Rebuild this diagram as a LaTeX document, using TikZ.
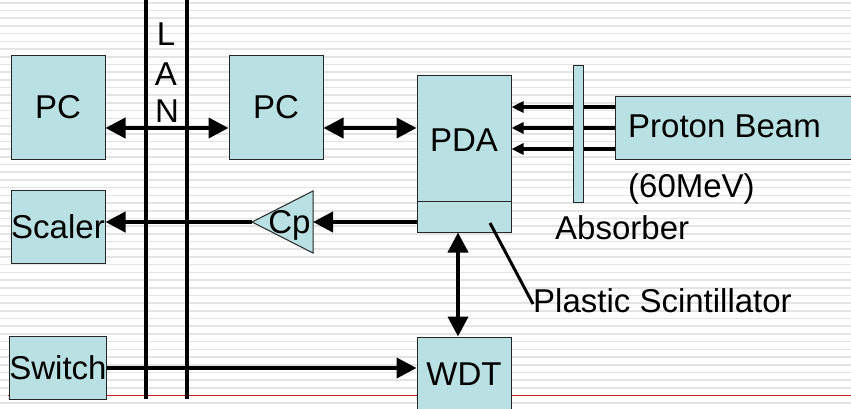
\documentclass[tikz,border=0pt]{standalone}
\usepackage{fontspec}
\setmainfont{Liberation Sans}
\usetikzlibrary{arrows.meta}
\definecolor{boxcol}{RGB}{185,224,227}
\definecolor{stripecol}{RGB}{228,228,228}
\definecolor{redline}{RGB}{200,30,30}
\newcommand{\bigfont}{\fontsize{33}{39}\selectfont}
\tikzset{
  blockbox/.style={draw=black!85, line width=1pt, fill=boxcol, inner sep=0pt, rectangle},
  lbl/.style={inner sep=0pt, anchor=base, font=\bigfont},
  lblw/.style={inner sep=0pt, anchor=base west, font=\bigfont},
  bigarrow/.style={line width=4pt, -{Triangle[length=20pt,width=20pt]}},
  bigbiarrow/.style={line width=4pt, {Triangle[length=20pt,width=20pt]}-{Triangle[length=20pt,width=20pt]}},
  beamarrow/.style={line width=3.3pt, -{Triangle[length=12pt,width=11pt]}},
  lanline/.style={line width=3.5pt},
}
\begin{document}
\begin{tikzpicture}[x=1pt,y=-1pt]
\path[use as bounding box] (0,0) rectangle (851,408);
\clip (0,0) rectangle (851,408);
\fill[white] (0,0) rectangle (851,408);
\foreach \k in {0,...,53} \fill[stripecol] (0,{2+7.7*\k}) rectangle (851,{3.6+7.7*\k});
% red template line
\coordinate (redL) at (8,395.5);
\coordinate (redR) at (851,395.5);
\draw[redline, line width=1pt] (redL) -- (redR);

% coordinates for rows
\coordinate (rowpc) at (0,128);
\coordinate (rowb1) at (0,107);
\coordinate (rowb2) at (0,128);
\coordinate (rowb3) at (0,149);
\coordinate (rowsw) at (0,368);
\coordinate (cpin) at (313,222);
\coordinate (cpout) at (252,222);

% boxes
\node[blockbox, minimum width=94pt, minimum height=104pt, font=\bigfont] (pc1) at (58,107) {PC};
\node[blockbox, minimum width=94pt, minimum height=104pt, font=\bigfont] (pc2) at (276,107) {PC};
\node[blockbox, minimum width=94pt, minimum height=157pt] (pda) at (464,153.5) {};
\coordinate (pdadiv) at (0,201);
\draw[black!85, line width=1pt] (pda.west |- pdadiv) -- (pda.east |- pdadiv);
\node[lbl] (pdatxt) at (464,151) {PDA};
\node[blockbox, minimum width=245pt, minimum height=63pt] (beam) at (737.5,127.5) {};
\node[lblw] (beamtxt) at (628,137) {Proton Beam};
\node[blockbox, minimum width=94pt, minimum height=73pt, font=\bigfont] (scaler) at (58,226.5) {Scaler};
\node[blockbox, minimum width=94pt, minimum height=63pt, font=\bigfont] (switch) at (58,367.5) {Switch};
\node[blockbox, minimum width=94pt, minimum height=83pt] (wdt) at (464,378.5) {};
\node[lbl] (wdttxt) at (464,385) {WDT};

% Cp triangle
\draw[black!85, line width=1pt, fill=boxcol] (cpout) -- (313,191) -- (313,253) -- cycle;
\node[lbl] (cp) at (289.5,233) {Cp};

% beam arrows (under absorber)
\draw[beamarrow] (beam.west |- rowb1) -- (pda.east |- rowb1);
\draw[beamarrow] (beam.west |- rowb2) -- (pda.east |- rowb2);
\draw[beamarrow] (beam.west |- rowb3) -- (pda.east |- rowb3);
\node[blockbox, minimum width=10pt, minimum height=137pt] (absorber) at (578,133.5) {};

% labels
\node[lblw] (mev) at (628,197) {(60MeV)};
\node[lblw] (abslbl) at (555,239) {Absorber};
\node[lblw] (plastic) at (533,312) {Plastic Scintillator};
\coordinate (plstart) at (490,223);
\draw[line width=3pt] (plstart) -- (plastic.west |- 0,304);

% LAN
\coordinate (lanAt) at (146,0);
\coordinate (lanAb) at (146,399);
\coordinate (lanBt) at (187,0);
\coordinate (lanBb) at (187,399);
\draw[lanline] (lanAt) -- (lanAb);
\draw[lanline] (lanBt) -- (lanBb);
\node[lbl] (lanL) at (166,45) {L};
\node[lbl] (lanA) at (166,85) {A};
\node[lbl] (lanN) at (167,122) {N};

% connectors
\draw[bigbiarrow] (pc1.east |- rowpc) -- (pc2.west |- rowpc);
\draw[bigbiarrow] (pc2.east |- rowpc) -- (pda.west |- rowpc);
\draw[bigarrow] (pda.west |- cpin) -- (cpin);
\draw[bigarrow] (cpout) -- (scaler.east |- cpout);
\draw[bigbiarrow] ([xshift=-6pt]pda.south) -- ([xshift=-6pt]wdt.north);
\draw[bigarrow] (switch.east |- rowsw) -- (wdt.west |- rowsw);
\end{tikzpicture}
\end{document}
